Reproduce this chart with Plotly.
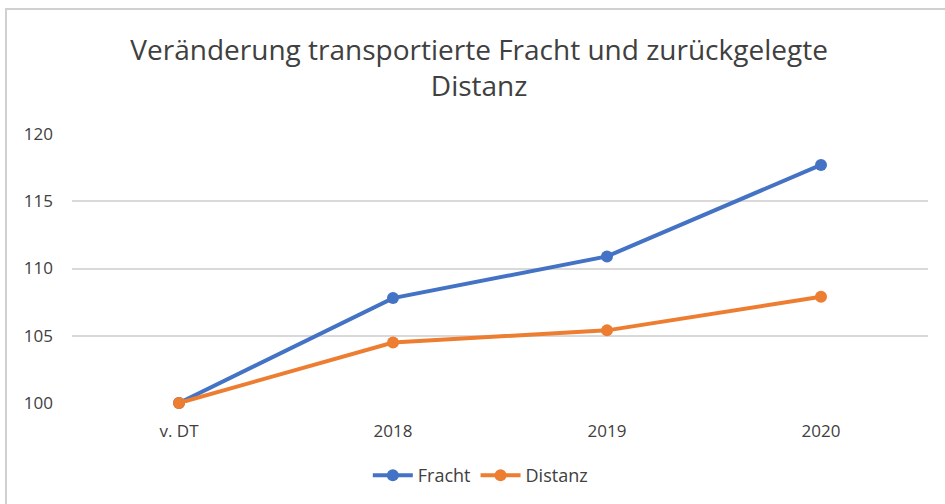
import plotly.graph_objects as go

categories = ["v. DT", "2018", "2019", "2020"]
fracht = [100, 107.8, 110.9, 117.7]
distanz = [100, 104.5, 105.4, 107.9]
y_ticks = [100, 105, 110, 115, 120]

FONT = "Open Sans"

fig = go.Figure()
fig.add_trace(go.Scatter(
    x=categories, y=fracht, name="Fracht", mode="lines+markers",
    line=dict(color="#4472C4", width=4),
    marker=dict(size=12, color="#4472C4"), cliponaxis=False))
fig.add_trace(go.Scatter(
    x=categories, y=distanz, name="Distanz", mode="lines+markers",
    line=dict(color="#ED7D31", width=4),
    marker=dict(size=12, color="#ED7D31"), cliponaxis=False))

fig.update_layout(
    width=945, height=504,
    margin=dict(l=72, r=17, t=134, b=101, autoexpand=False),
    paper_bgcolor="white", plot_bgcolor="white",
    font=dict(family=FONT, color="#595959", size=17),
    title=dict(text="Veränderung transportierte Fracht und zurückgelegte<br>Distanz",
               x=0.507, xanchor="center", y=1 - 60 / 504, yanchor="middle",
               font=dict(family=FONT, size=28, color="#404040")),
    showlegend=True,
    legend=dict(orientation="h", x=0.477, xanchor="center", y=-0.27, yanchor="middle",
                font=dict(size=18, color="#404040"), itemwidth=40, tracegroupgap=0),
    xaxis=dict(type="category", range=[-0.5, 3.5], showgrid=False, showline=False, ticks="",
               automargin=False,
               tickfont=dict(size=17, color="#404040"), ticklabelstandoff=16),
    yaxis=dict(range=[100, 120], tickvals=y_ticks, showgrid=True, gridcolor="#D9D9D9",
               gridwidth=1.5, zeroline=False, showline=False, ticks="", automargin=False,
               tickfont=dict(size=17, color="#404040"), ticklabelstandoff=18),
    shapes=[dict(type="rect", xref="paper", yref="paper",
                 x0=(6 - 72) / 856, x1=1.2, y0=-1, y1=(403 - 9) / 269,
                 line=dict(color="#D0D0D0", width=2), layer="below")],
)

fig.write_html("out.html", config={"displayModeBar": False},
               post_script="document.body.style.margin='0px';")
